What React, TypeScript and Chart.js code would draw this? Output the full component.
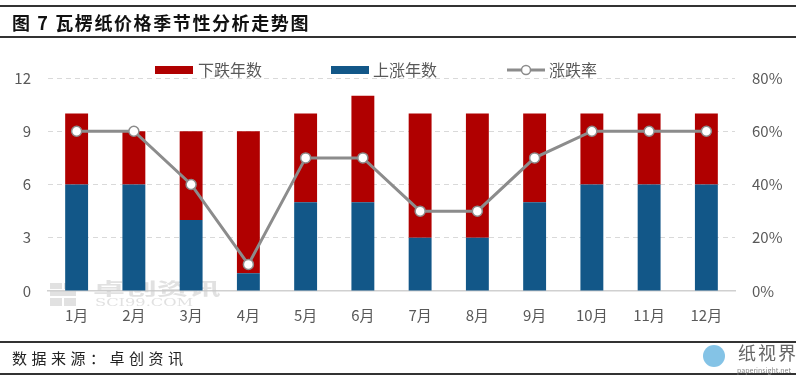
import React, { useEffect, useRef } from "react";
import { Chart, registerables } from "chart.js";

Chart.register(...registerables);

const months = ["1月", "2月", "3月", "4月", "5月", "6月", "7月", "8月", "9月", "10月", "11月", "12月"];
const upYears = [6, 6, 4, 1, 5, 5, 3, 3, 5, 6, 6, 6];
const downYears = [4, 3, 5, 8, 5, 6, 7, 7, 5, 4, 4, 4];
const riseRate = [60, 60, 40, 10, 50, 50, 30, 30, 50, 60, 60, 60];

const RED = "#B00000";
const BLUE = "#125788";
const GRAY = "#8C8C8C";
const FONT = "'Noto Sans CJK SC', 'Noto Sans', sans-serif";

const legendPlugin = {
  id: "customLegend",
  afterDraw(chart: any) {
    const ctx = chart.ctx;
    ctx.save();
    ctx.font = `16px ${FONT}`;
    ctx.textBaseline = "middle";
    const y = 70;
    ctx.fillStyle = RED;
    ctx.fillRect(155, 66, 38, 8);
    ctx.fillStyle = "#595959";
    ctx.fillText("下跌年数", 198, y);
    ctx.fillStyle = BLUE;
    ctx.fillRect(331, 66, 38, 8);
    ctx.fillStyle = "#595959";
    ctx.fillText("上涨年数", 373, y);
    ctx.strokeStyle = GRAY;
    ctx.lineWidth = 3;
    ctx.beginPath();
    ctx.moveTo(507, y);
    ctx.lineTo(545, y);
    ctx.stroke();
    ctx.beginPath();
    ctx.arc(526, y, 4.5, 0, Math.PI * 2);
    ctx.fillStyle = "#fff";
    ctx.fill();
    ctx.lineWidth = 1.5;
    ctx.stroke();
    ctx.fillStyle = "#595959";
    ctx.fillText("涨跌率", 549, y);
    ctx.restore();
  },
};

const watermarkPlugin = {
  id: "watermark",
  beforeDatasetsDraw(chart: any) {
    const ctx = chart.ctx;
    ctx.save();
    const c = "rgba(200,200,200,0.55)";
    ctx.fillStyle = c;
    ctx.fillRect(50, 283, 12, 6);
    ctx.fillRect(64, 283, 12, 6);
    ctx.fillRect(50, 291, 26, 5);
    ctx.fillRect(50, 298, 12, 8);
    ctx.fillRect(64, 298, 12, 8);
    ctx.textBaseline = "middle";
    ctx.save();
    ctx.translate(93, 289);
    ctx.scale(1.45, 0.75);
    ctx.font = `bold 22px ${FONT}`;
    ctx.fillText("卓创资讯", 0, 0);
    ctx.restore();
    ctx.save();
    ctx.translate(95, 303);
    ctx.scale(1.25, 0.9);
    ctx.font = `13px 'DejaVu Serif', serif`;
    ctx.fillText("SCI99.COM", 0, 0);
    ctx.restore();
    ctx.restore();
  },
};

export default function App() {
  const ref = useRef<HTMLCanvasElement>(null);
  useEffect(() => {
    if (!ref.current) return;
    const chart = new Chart(ref.current, {
      type: "bar",
      data: {
        labels: months,
        datasets: [
          {
            type: "line",
            label: "涨跌率",
            data: riseRate,
            yAxisID: "y1",
            borderColor: GRAY,
            borderWidth: 3,
            pointRadius: 5,
            pointBackgroundColor: "#ffffff",
            pointBorderColor: GRAY,
            pointBorderWidth: 1.5,
            tension: 0,
            order: 0,
          } as any,
          {
            label: "上涨年数",
            data: upYears,
            backgroundColor: BLUE,
            yAxisID: "y",
            stack: "s",
            barPercentage: 0.4,
            categoryPercentage: 1,
            order: 1,
          },
          {
            label: "下跌年数",
            data: downYears,
            backgroundColor: RED,
            yAxisID: "y",
            stack: "s",
            barPercentage: 0.4,
            categoryPercentage: 1,
            order: 1,
          },
        ],
      },
      options: {
        animation: false,
        responsive: false,
        maintainAspectRatio: false,
        layout: { padding: { top: 78, bottom: 51, left: 0, right: 0 } },
        plugins: { legend: { display: false }, tooltip: { enabled: false } },
        scales: {
          x: {
            stacked: true,
            grid: { display: false, drawTicks: false },
            border: { display: true, color: "#D0D0D0", width: 1.5 },
            ticks: { color: "#595959", font: { family: FONT, size: 15 }, padding: 15 },
            afterFit(s: any) { s.height = 40; },
          },
          y: {
            stacked: true,
            position: "left",
            min: 0,
            max: 12,
            ticks: { stepSize: 3, color: "#595959", font: { family: FONT, size: 15 }, padding: 17 },
            grid: { color: (c: any) => (c.tick && c.tick.value === 0 ? "rgba(0,0,0,0)" : "#D9D9D9"), drawTicks: false },
            border: { display: false, dash: [5, 4] },
            afterFit(s: any) { s.width = 48; },
          },
          y1: {
            position: "right",
            min: 0,
            max: 80,
            ticks: { stepSize: 20, color: "#595959", font: { family: FONT, size: 15 }, padding: 17, callback: (v: any) => v + "%" },
            grid: { display: false, drawTicks: false },
            border: { display: false },
            afterFit(s: any) { s.width = 65; },
          },
        },
      },
      plugins: [legendPlugin, watermarkPlugin],
    });
    return () => chart.destroy();
  }, []);

  const line = (top: number) => (
    <div style={{ position: "absolute", left: 0, top, width: 796, height: 2, background: "#333" }} />
  );

  return (
    <div style={{ position: "absolute", left: 0, top: 0, width: 800, height: 382, background: "#fff", overflow: "hidden" }}>
      <canvas ref={ref} width={800} height={382} style={{ position: "absolute", left: 0, top: 0, width: 800, height: 382 }} />
      {line(5)}
      {line(36)}
      <div style={{ position: "absolute", left: 12, top: 8, height: 28, lineHeight: "28px", fontFamily: FONT, fontWeight: 700, fontSize: 18, letterSpacing: 1.6, color: "#111", whiteSpace: "nowrap" }}>
        图 7 瓦楞纸价格季节性分析走势图
      </div>
      {line(341)}
      {line(373)}
      <div style={{ position: "absolute", left: 12, top: 344, height: 28, lineHeight: "28px", fontFamily: FONT, fontSize: 15, letterSpacing: 4.5, color: "#222", whiteSpace: "nowrap" }}>
        数据来源：卓创资讯
      </div>
      <div style={{ position: "absolute", left: 703, top: 345, width: 22, height: 22, borderRadius: 11, background: "rgba(80,170,220,0.7)" }} />
      <div style={{ position: "absolute", left: 738, top: 340, lineHeight: "24px", fontFamily: FONT, fontSize: 18, letterSpacing: 2, color: "#666", whiteSpace: "nowrap" }}>
        纸视界
      </div>
      <div style={{ position: "absolute", left: 737, top: 366, lineHeight: "8px", fontFamily: FONT, fontSize: 7, color: "#888", whiteSpace: "nowrap" }}>
        paperinsight.net
      </div>
    </div>
  );
}
